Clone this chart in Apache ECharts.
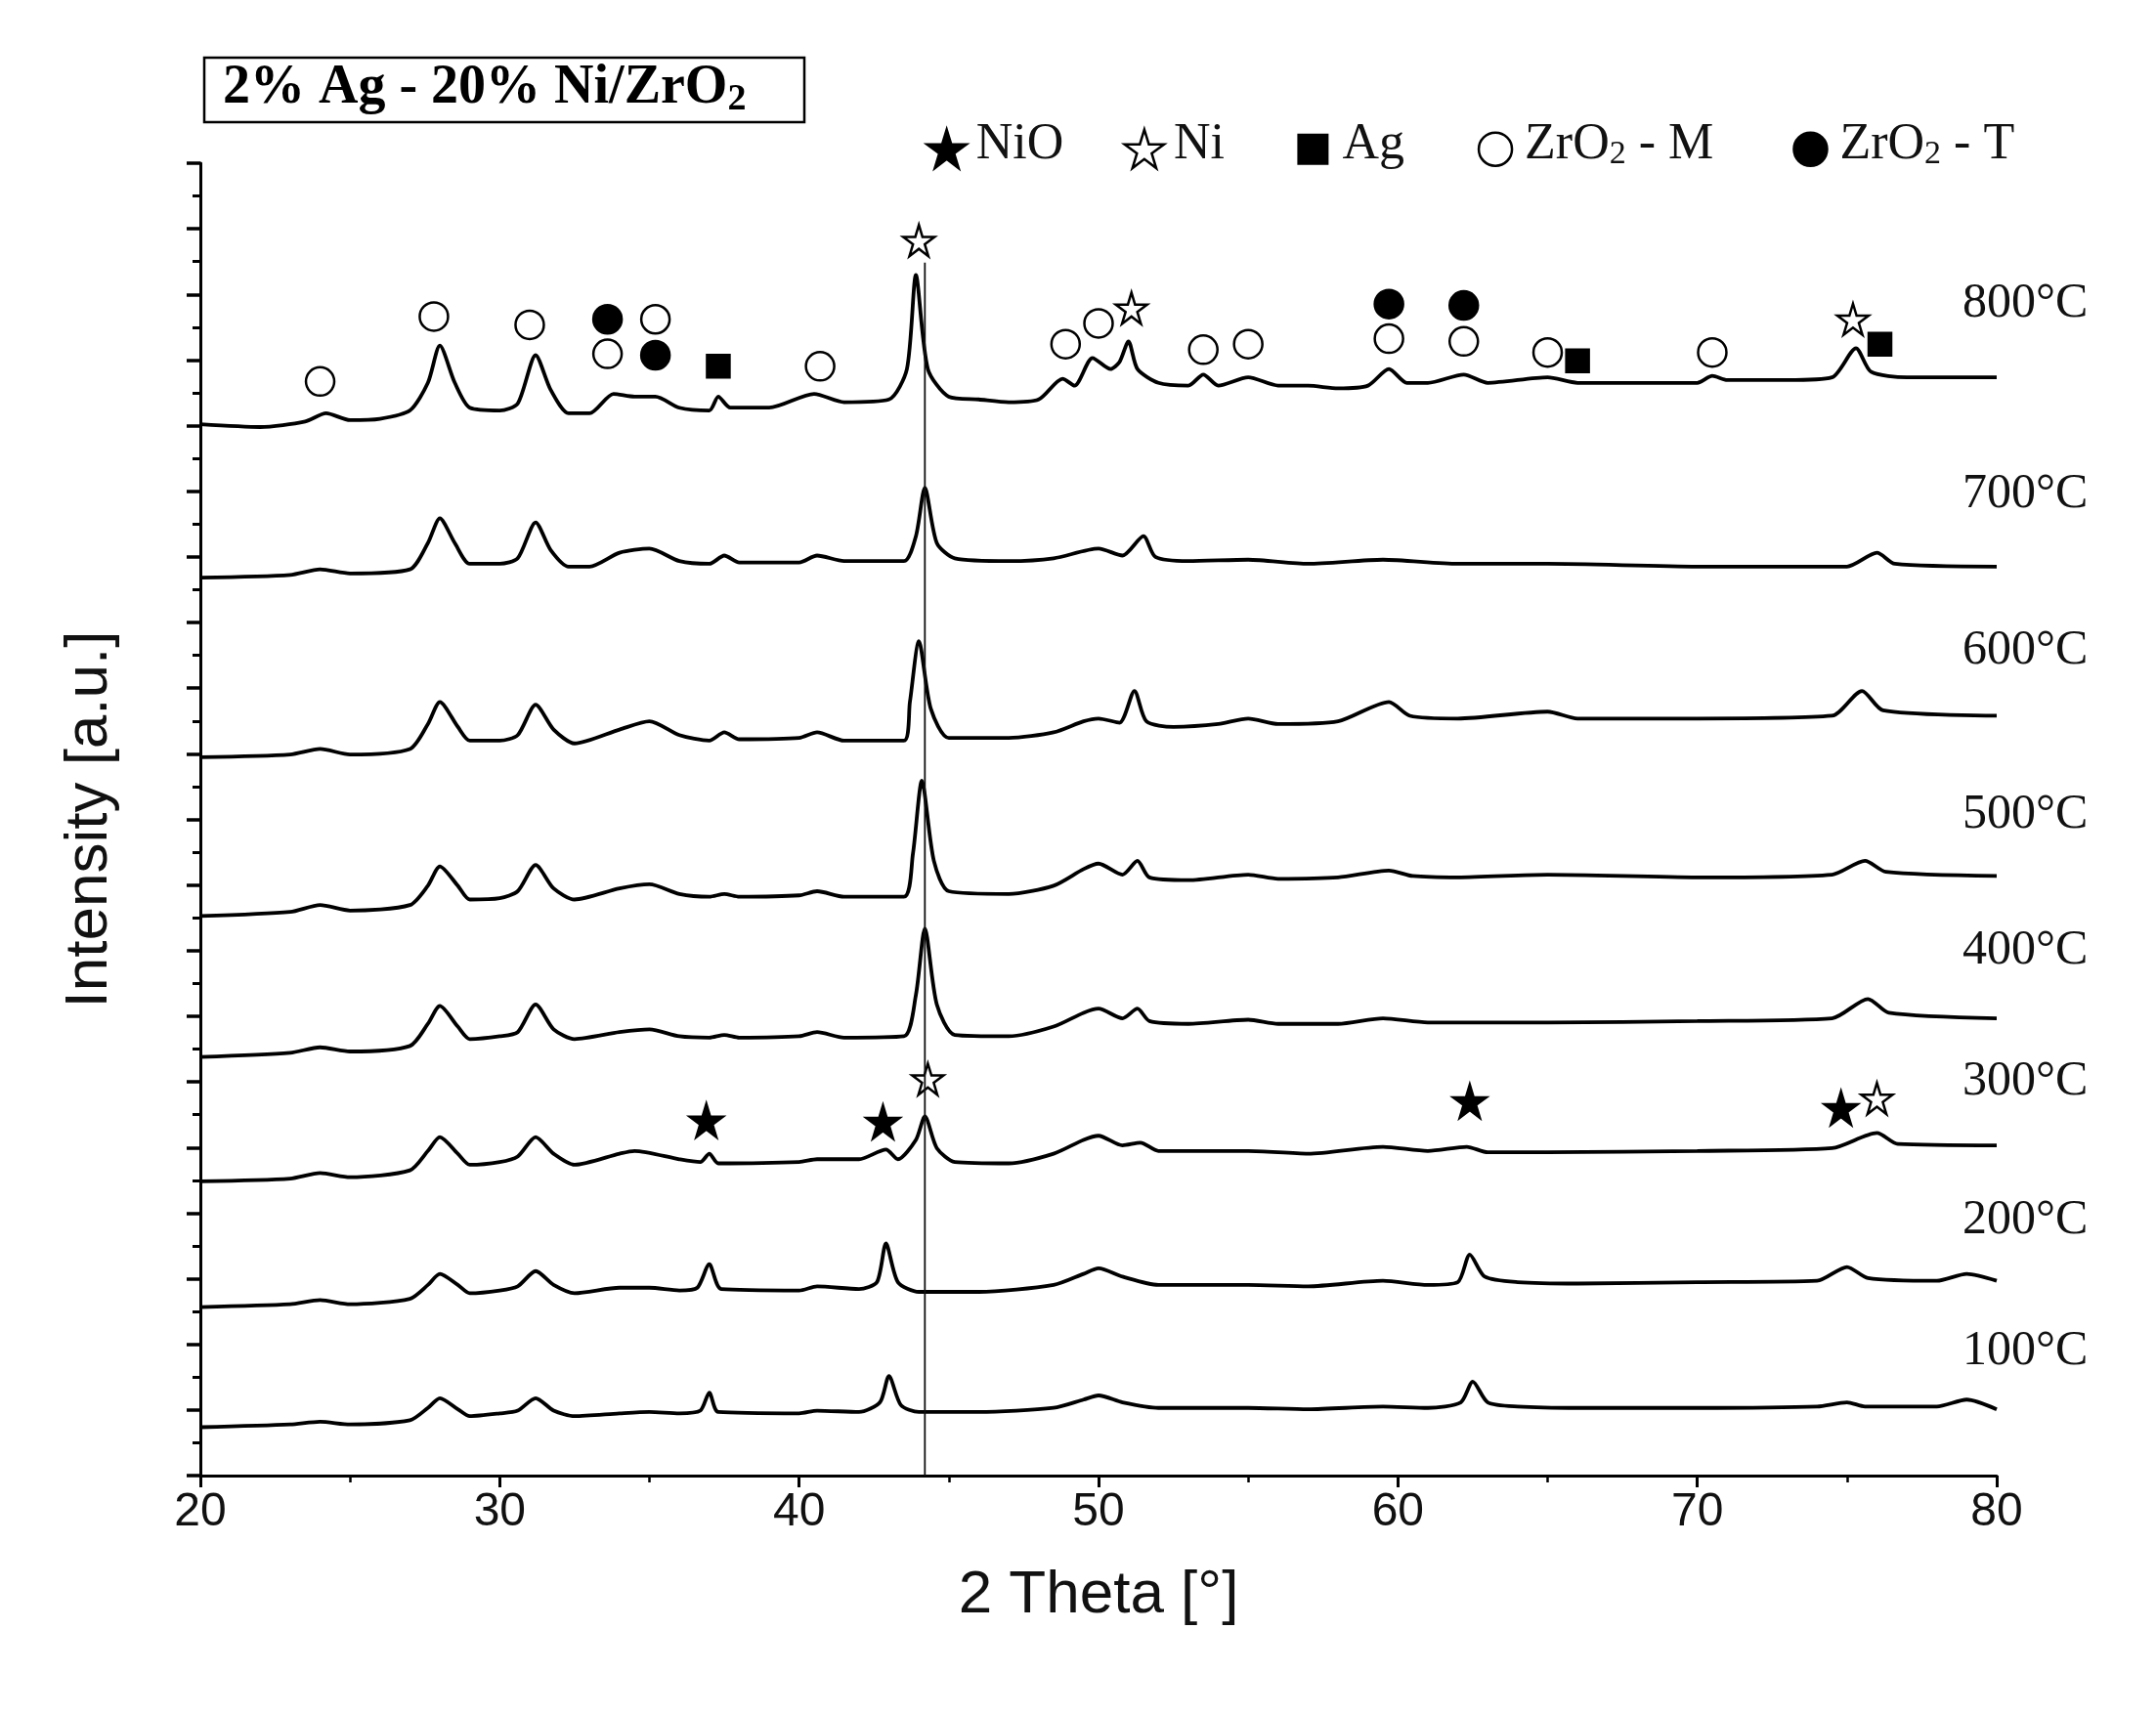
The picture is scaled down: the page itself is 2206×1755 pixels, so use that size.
<!DOCTYPE html>
<html>
<head>
<meta charset="utf-8">
<script src="https://cdn.jsdelivr.net/npm/echarts@6/dist/echarts.min.js"></script>
<style>html,body{margin:0;background:#fff}#chart{width:2206px;height:1755px}</style>
</head>
<body>
<div id="chart"></div>
<script>
// 温度标签和各曲线基线偏移（纵轴单位）
let temps = ['800°C', '700°C', '600°C', '500°C', '400°C', '300°C', '200°C', '100°C'];
let offsets = [761, 650, 520, 405, 303, 213, 122, 35];

// 每条曲线 [2theta, 相对强度]
let p800 = [[20,0],[22,-2],[23.5,2],[24.2,8],[25,3],[26,4],[27,10],[27.6,30],[28,57],[28.5,30],[29,12],[30,10],[30.6,15],[31.2,50],[31.7,25],[32.3,8],[33,8],[33.8,22],[34.5,20],[35.2,20],[36,12],[37,10],[37.3,20],[37.7,12],[39,12],[40.5,22],[41.5,16],[43,18],[43.6,40],[43.9,108],[44.3,40],[45,20],[46,18],[47,16],[48,18],[48.8,33],[49.2,28],[49.8,48],[50.4,40],[50.7,45],[51,60],[51.3,40],[52,30],[53,28],[53.5,36],[54,28],[55,34],[56,28],[57,28],[58,26],[59,28],[59.7,40],[60.3,30],[61,30],[62.2,36],[63,30],[65,34],[66,30],[68,30],[70,30],[70.5,35],[71,32],[73,32],[74.5,34],[75.3,55],[75.8,38],[77,34],[80,34]];
let p700 = [[20,0],[23,2],[24,6],[25,3],[27,6],[27.6,25],[28,43],[28.5,25],[29,10],[30,10],[30.6,14],[31.2,40],[31.7,20],[32.3,8],[33,8],[34,18],[35,21],[36,12],[37,10],[37.5,16],[38,11],[40,11],[40.6,16],[41.5,12],[43.5,12],[43.9,30],[44.2,65],[44.6,25],[45.2,14],[47,12],[48.5,14],[50,21],[50.8,16],[51.5,30],[51.9,15],[53,12],[55,13],[57,10],[59.5,13],[62,10],[65,10],[70,8],[75,8],[76,18],[76.6,10],[80,8]];
let p600 = [[20,0],[23,2],[24,6],[25,2],[27,6],[27.6,24],[28,40],[28.6,22],[29,12],[30,12],[30.6,16],[31.2,38],[31.8,20],[32.5,10],[34,20],[35,26],[36,16],[37,12],[37.5,18],[38,13],[40,14],[40.6,18],[41.5,12],[43.5,12],[43.7,40],[44,84],[44.4,35],[45,14],[47,14],[48.5,18],[49.5,26],[50,28],[50.7,25],[51.2,48],[51.6,26],[52.5,22],[54,24],[55,28],[56,24],[58,26],[59.7,40],[60.4,30],[62,28],[65,33],[66,28],[70,28],[74.5,30],[75.5,48],[76.2,34],[80,30]];
let p500 = [[20,0],[23,3],[24,8],[25,4],[27,8],[27.6,22],[28,36],[28.6,22],[29,12],[30,13],[30.6,18],[31.2,37],[31.8,20],[32.5,12],[34,20],[35,23],[36,16],[37,14],[37.5,16],[38,14],[40,15],[40.6,18],[41.5,14],[43.5,14],[43.8,45],[44.1,98],[44.5,40],[45,18],[47,16],[48.5,22],[49.5,34],[50,38],[50.8,30],[51.3,40],[51.7,28],[53,26],[55,30],[56,27],[58,28],[59.7,33],[60.5,29],[62,28],[65,30],[70,28],[74.5,30],[75.6,40],[76.3,32],[80,29]];
let p400 = [[20,0],[23,3],[24,7],[25,4],[27,8],[27.6,24],[28,37],[28.6,22],[29,13],[30,15],[30.6,18],[31.2,38],[31.8,20],[32.5,13],[34,18],[35,20],[36,15],[37,14],[37.5,16],[38,14],[40,15],[40.6,18],[41.5,14],[43.5,15],[43.9,45],[44.2,93],[44.6,38],[45.2,16],[47,15],[48.5,22],[49.5,32],[50,35],[50.8,28],[51.3,35],[51.7,26],[53,24],[55,27],[56,24],[58,24],[59.5,28],[61,25],[65,25],[70,26],[74.5,28],[75.7,42],[76.4,32],[80,28]];
let p300 = [[20,0],[23,2],[24,6],[25,3],[27,8],[27.6,22],[28,32],[28.6,20],[29,12],[30,14],[30.6,18],[31.2,32],[31.8,20],[32.5,12],[34,20],[34.5,22],[36,16],[36.7,14],[37,20],[37.3,13],[40,14],[40.6,16],[42,16],[42.9,23],[43.3,16],[43.9,30],[44.2,47],[44.6,24],[45.2,14],[47,13],[48.5,20],[49.5,30],[50,33],[50.8,26],[51.4,28],[52,22],[55,22],[57,20],[59.5,25],[61,22],[62.3,25],[63,21],[65,21],[70,22],[74.5,24],[76,35],[76.7,27],[80,26]];
let p200 = [[20,0],[23,2],[24,5],[25,2],[27,6],[27.6,16],[28,24],[28.6,16],[29,10],[30,12],[30.6,15],[31.2,26],[31.8,16],[32.5,10],[34,14],[35,14],[36,12],[36.6,14],[37,31],[37.4,13],[40,12],[40.6,15],[42,13],[42.6,18],[42.9,46],[43.3,18],[44,11],[46,11],[48.5,16],[49.5,24],[50,28],[50.8,22],[52,16],[55,16],[57,15],[59.5,19],[61,16],[62,18],[62.4,38],[62.9,22],[64,18],[66,17],[70,18],[74,19],[75,29],[75.7,21],[78,19],[79,24],[80,19]];
let p100 = [[20,0],[23,2],[24,4],[25,2],[27,5],[27.6,14],[28,21],[28.6,13],[29,8],[30,10],[30.6,12],[31.2,21],[31.8,12],[32.5,8],[34,10],[35,11],[36,10],[36.7,12],[37,25],[37.3,11],[40,10],[40.6,12],[42,11],[42.7,18],[43,37],[43.4,16],[44,11],[46,11],[48.5,14],[49.5,20],[50,23],[50.8,18],[52,14],[55,14],[57,13],[59.5,15],[61,14],[62.1,18],[62.5,33],[63,18],[64,15],[66,14],[70,14],[74,15],[75,18],[75.6,15],[78,15],[79,20],[80,13]];
let patterns = [p800, p700, p600, p500, p400, p300, p200, p100];

// 物相标记位置
let markOpenCircle = [[24,792],[27.8,839],[31,833],[33.6,812],[35.2,837],[40.7,803],[48.9,819],[50,834],[53.5,815],[55,819],[59.7,823],[62.2,821],[65,813],[70.5,813]];
let markFillCircle = [[33.6,837],[35.2,811],[59.7,848],[62.2,847]];
let markSquare = [[37.3,803],[66,807],[76.1,819]];
let markOpenStar = [[44,894],[51.1,845],[75.2,837],[44.3,287],[76,273]];
let markFillStar = [[36.9,257],[42.8,256],[62.4,271],[74.8,266]];
let refLine = [[44.2,0],[44.2,878]];
let labelY = [222, 360, 473, 592, 690, 785, 885, 980];

let starPts = [[50,2],[61,38],[98,38],[68,60],[79,96],[50,74],[21,96],[32,60],[2,38],[39,38]];
let starPath = 'path://M50,2 L61,38 L98,38 L68,60 L79,96 L50,74 L21,96 L32,60 L2,38 L39,38 Z';
let k = 2206 / 1560;
let myChart = echarts.init(document.getElementById('chart'));

let series = patterns.map(function (p, i) {
    return {
        type: 'line', showSymbol: false, silent: true, smooth: 0.25,
        data: p.map(function (d) { return [d[0], d[1] + offsets[i]]; }),
        lineStyle: {color: '#000', width: 3.8}
    };
});
series.push({type: 'line', showSymbol: false, data: refLine, lineStyle: {color: '#111', width: 1.8}});
function marks(data, symbol, size, filled) {
    return {
        type: 'scatter', data: data, symbol: symbol, symbolSize: size,
        itemStyle: {color: filled ? '#000' : '#fff', borderColor: '#000', borderWidth: 2.5, opacity: 1}
    };
}
series.push(marks(markOpenCircle, 'circle', 29, false));
series.push(marks(markFillCircle, 'circle', 29, true));
series.push(marks(markSquare, 'rect', 23, true));
series.push(marks(markOpenStar, starPath, 32, false));
series.push(marks(markFillStar, starPath, 34, true));

let graphics = temps.map(function (t, i) {
    return {type: 'text', x: 2008, y: labelY[i] * k - 28,
        style: {text: t, font: '50px "Liberation Serif"', fill: '#111'}};
});
graphics.push({type: 'rect', shape: {x: 209, y: 59, width: 614, height: 66},
    style: {fill: 'none', stroke: '#000', lineWidth: 2.5}});
graphics.push({type: 'text', x: 228, y: 61, style: {
    rich: {b: {font: 'bold 56px "Liberation Serif"', fill: '#000'}, s: {font: 'bold 38px "Liberation Serif"', fill: '#000', padding: [22, 0, 0, 0]}},
    text: '{b|2% Ag - 20% Ni/ZrO}{s|2}'}});
// 图例
let leg = [[685, 'star', true, 'NiO'], [828, 'star', false, 'Ni'], [950, 'rect', true, 'Ag'], [1082, 'circle', false, 'ZrO'], [1310, 'circle', true, 'ZrO']];
leg.forEach(function (l, i) {
    let cx = l[0] * k, cy = 108 * k;
    if (l[1] === 'circle') {
        graphics.push({type: 'circle', shape: {cx: cx, cy: cy, r: 17}, style: {fill: l[2] ? '#000' : '#fff', stroke: '#000', lineWidth: 2.5}});
    } else if (l[1] === 'rect') {
        graphics.push({type: 'rect', shape: {x: cx - 16, y: cy - 16, width: 32, height: 32}, style: {fill: '#000'}});
    } else {
        graphics.push({type: 'polygon', shape: {points: starPts.map(function (p) { return [cx - 21 + p[0] * 0.42, cy - 21 + p[1] * 0.42]; })},
            style: {fill: l[2] ? '#000' : '#fff', stroke: '#000', lineWidth: 2.5}});
    }
    let txt = l[3] === 'ZrO' ? '{n|ZrO}{s|2}{n| - ' + (i === 3 ? 'M' : 'T') + '}' : '{n|' + l[3] + '}';
    graphics.push({type: 'text', x: cx + 30, y: cy - 30, style: {
        rich: {n: {font: '52px "Liberation Serif"', fill: '#111'}, s: {font: '34px "Liberation Serif"', fill: '#111', padding: [18, 0, 0, 0]}},
        text: txt}});
});

let option = {
    backgroundColor: '#fff',
    animation: false,
    grid: {left: 205, right: 163, top: 167, bottom: 245},
    xAxis: {
        type: 'value', min: 20, max: 80, interval: 10,
        name: '2 Theta [°]', nameLocation: 'middle', nameGap: 92,
        nameTextStyle: {fontFamily: 'Liberation Sans', fontSize: 62, color: '#111'},
        axisLine: {lineStyle: {color: '#000', width: 3}},
        axisTick: {length: 12, lineStyle: {width: 3}},
        minorTick: {show: true, splitNumber: 2, length: 7, lineStyle: {color: '#000', width: 2.5}},
        axisLabel: {fontFamily: 'Liberation Sans', fontSize: 48, color: '#111', margin: 14},
        splitLine: {show: false}
    },
    yAxis: {
        type: 'value', min: 0, max: 950, interval: 47.5,
        name: 'Intensity [a.u.]', nameLocation: 'middle', nameGap: 82,
        nameTextStyle: {fontFamily: 'Liberation Sans', fontSize: 62, color: '#111'},
        axisLine: {show: true, lineStyle: {color: '#000', width: 3}},
        axisTick: {length: 14, lineStyle: {width: 3.5}},
        minorTick: {show: true, splitNumber: 2, length: 8, lineStyle: {color: '#000', width: 3}},
        axisLabel: {show: false},
        splitLine: {show: false}
    },
    graphic: graphics,
    series: series
};
myChart.setOption(option);
</script>
</body>
</html>
